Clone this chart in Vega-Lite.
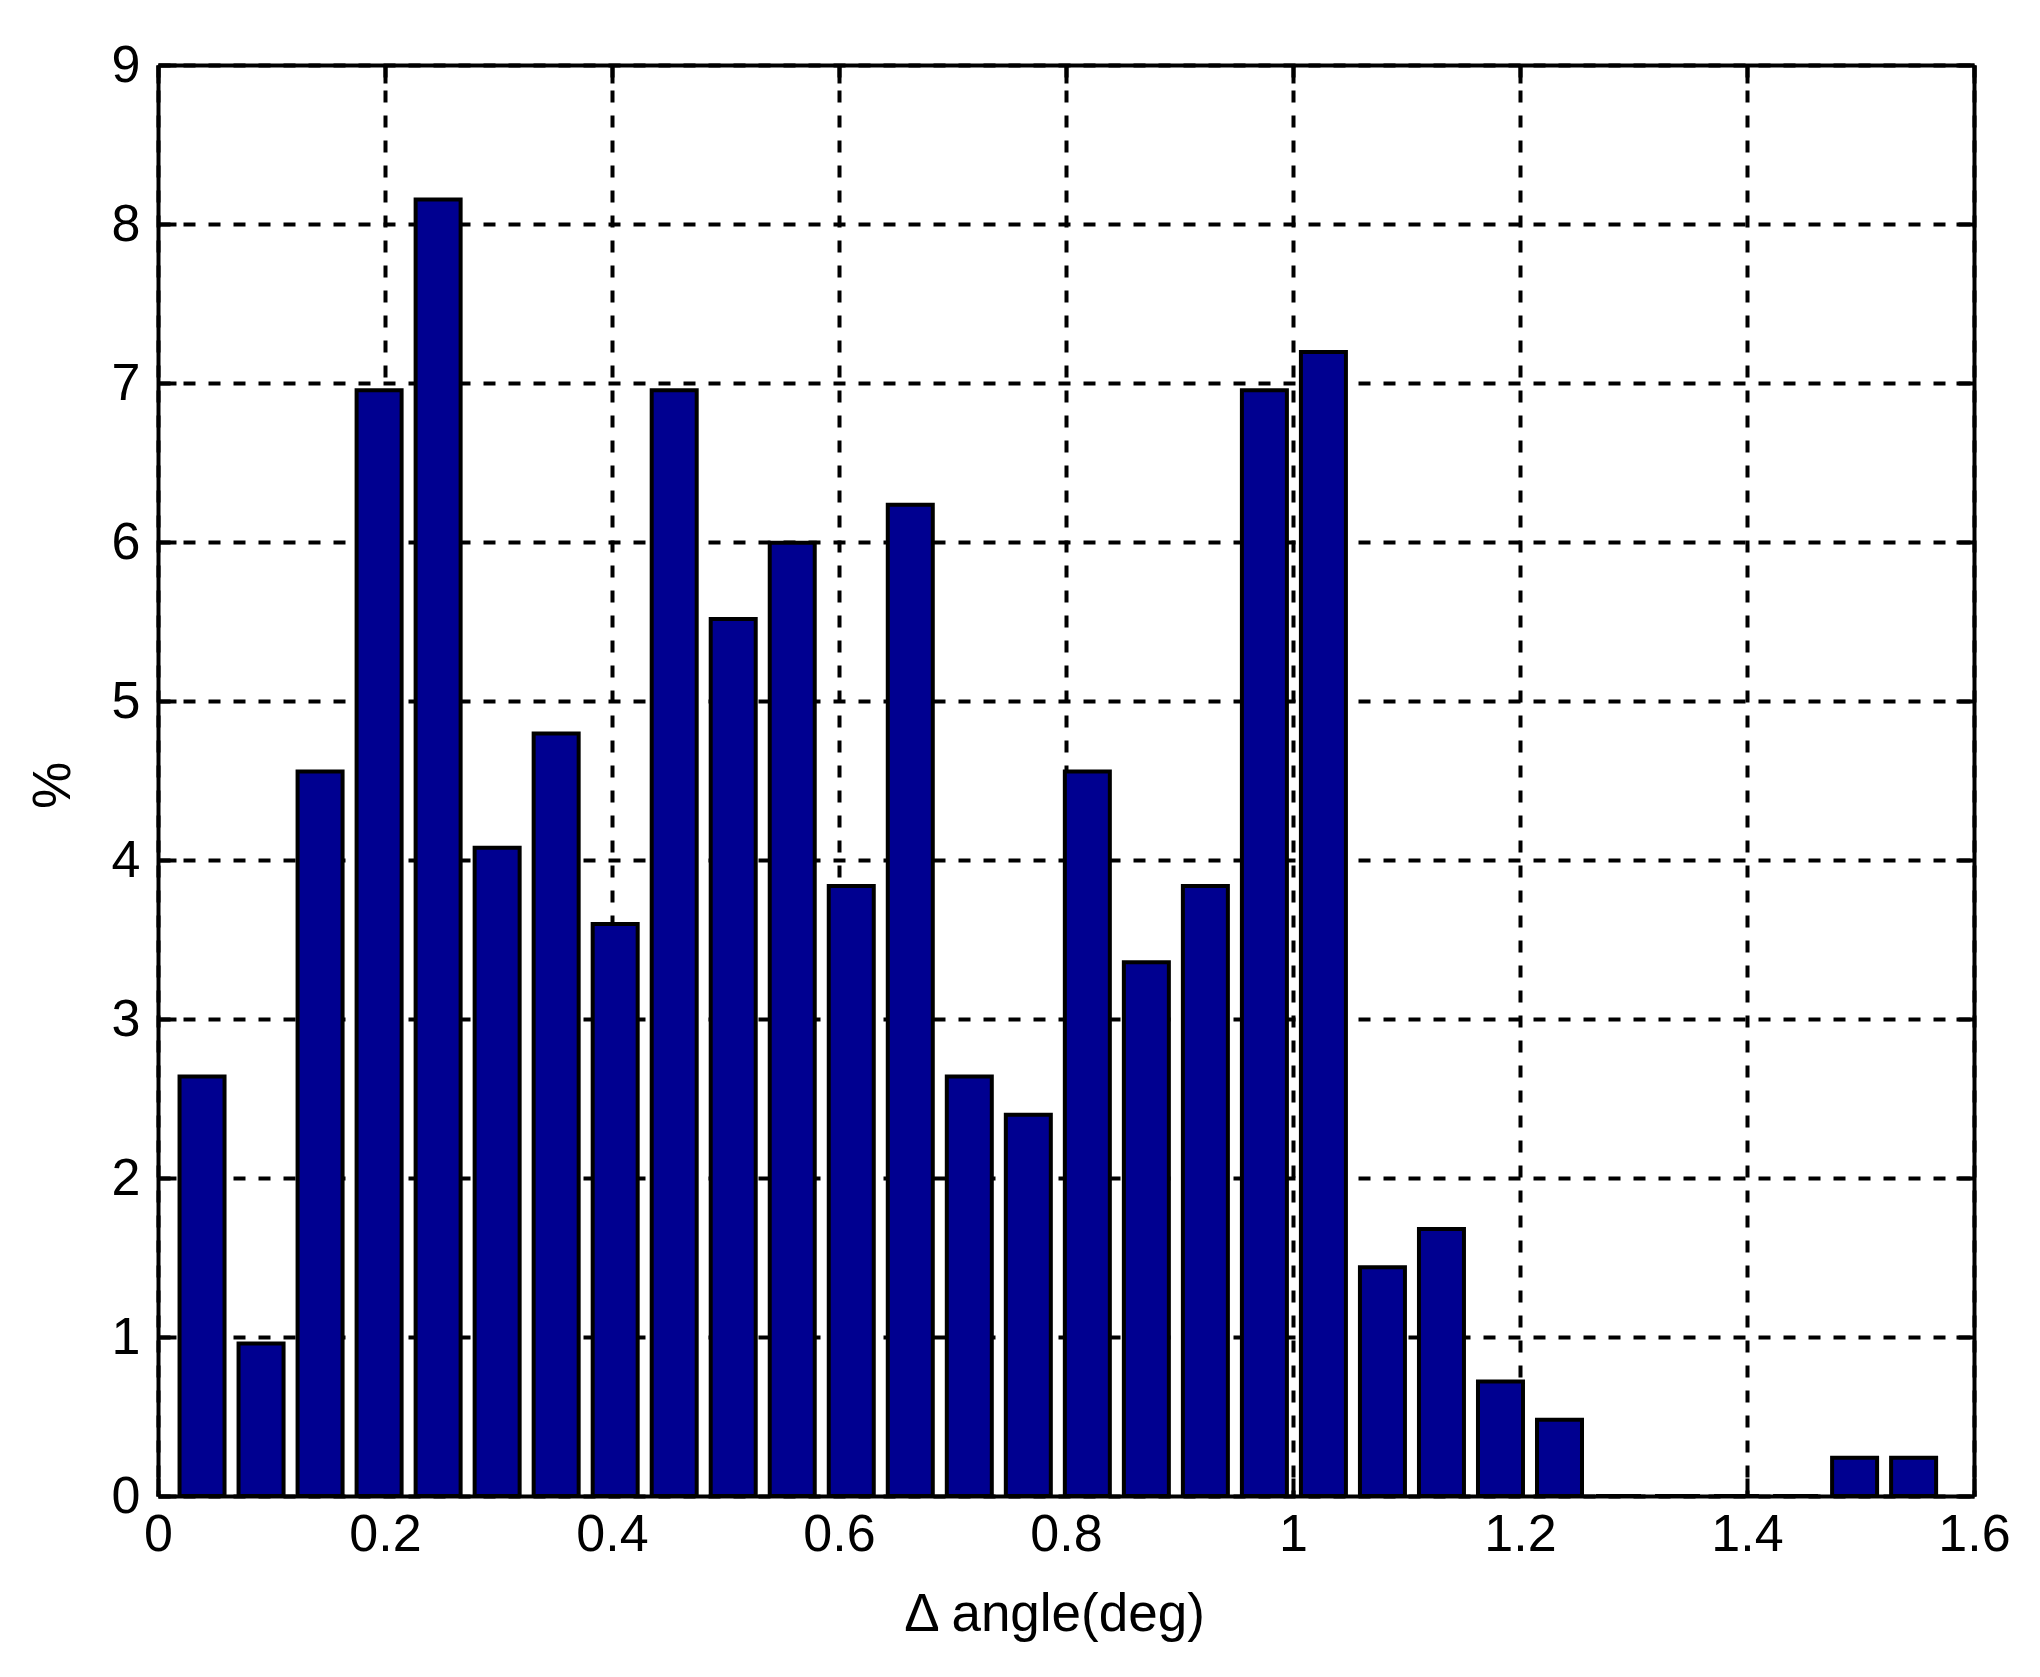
{
  "$schema": "https://vega.github.io/schema/vega-lite/v6.json",
  "width": 1816,
  "height": 1431,
  "autosize": {"type": "none"},
  "padding": {"left": 158, "top": 65, "right": 66, "bottom": 181},
  "background": "white",
  "config": {
    "view": {"stroke": null},
    "font": "Liberation Sans",
    "axis": {
      "labelFont": "Liberation Sans",
      "titleFont": "Liberation Sans",
      "labelColor": "black",
      "titleColor": "black",
      "labelFontSize": 52,
      "titleFontSize": 53,
      "titleFontWeight": "normal",
      "domainColor": "black",
      "domainWidth": 4,
      "tickColor": "black",
      "tickWidth": 4,
      "tickSize": -18,
      "labelOverlap": false,
      "labelFlush": false,
      "gridColor": "black",
      "gridOpacity": 1,
      "gridWidth": 4,
      "gridDash": [12, 13]
    }
  },
  "data": {
    "values": [
      {"angle": 0.0388, "pct": 2.6379},
      {"angle": 0.0908, "pct": 0.9592},
      {"angle": 0.1428, "pct": 4.5564},
      {"angle": 0.1948, "pct": 6.9544},
      {"angle": 0.2468, "pct": 8.1535},
      {"angle": 0.2988, "pct": 4.0767},
      {"angle": 0.3508, "pct": 4.7962},
      {"angle": 0.4028, "pct": 3.5971},
      {"angle": 0.4548, "pct": 6.9544},
      {"angle": 0.5068, "pct": 5.5156},
      {"angle": 0.5588, "pct": 5.9952},
      {"angle": 0.6108, "pct": 3.8369},
      {"angle": 0.6628, "pct": 6.2350},
      {"angle": 0.7148, "pct": 2.6379},
      {"angle": 0.7668, "pct": 2.3981},
      {"angle": 0.8188, "pct": 4.5564},
      {"angle": 0.8708, "pct": 3.3573},
      {"angle": 0.9228, "pct": 3.8369},
      {"angle": 0.9748, "pct": 6.9544},
      {"angle": 1.0268, "pct": 7.1942},
      {"angle": 1.0788, "pct": 1.4388},
      {"angle": 1.1308, "pct": 1.6787},
      {"angle": 1.1828, "pct": 0.7194},
      {"angle": 1.2348, "pct": 0.4796},
      {"angle": 1.2868, "pct": 0},
      {"angle": 1.3388, "pct": 0},
      {"angle": 1.3908, "pct": 0},
      {"angle": 1.4428, "pct": 0},
      {"angle": 1.4948, "pct": 0.2398},
      {"angle": 1.5468, "pct": 0.2398}
    ]
  },
  "layer": [
    {
      "mark": {"type": "bar", "width": 45, "fill": "#000090", "stroke": "black", "strokeWidth": 4},
      "encoding": {
        "x": {
          "field": "angle",
          "type": "quantitative",
          "scale": {"domain": [0, 1.6], "nice": false, "zero": false, "padding": 0},
          "axis": {
            "orient": "bottom",
            "values": [0, 0.2, 0.4, 0.6, 0.8, 1, 1.2, 1.4, 1.6],
            "format": "~g",
            "grid": true,
            "labelPadding": 31,
            "title": "Δ angle(deg)",
            "titleX": 896,
            "titleY": 134,
            "titleAlign": "center",
            "titleBaseline": "alphabetic",
            "zindex": 0
          }
        },
        "y": {
          "field": "pct",
          "type": "quantitative",
          "scale": {"domain": [0, 9], "nice": false, "padding": 0},
          "axis": {
            "orient": "left",
            "values": [0, 1, 2, 3, 4, 5, 6, 7, 8, 9],
            "format": "d",
            "grid": true,
            "labelPadding": 36,
            "title": "%",
            "titleX": -105,
            "titleY": 720,
            "titleAngle": -90,
            "titleAlign": "center",
            "titleBaseline": "middle",
            "zindex": 0
          }
        }
      }
    },
    {
      "mark": {"type": "point", "opacity": 0},
      "encoding": {
        "x": {
          "field": "angle",
          "type": "quantitative",
          "axis": {
            "orient": "top",
            "values": [0, 0.2, 0.4, 0.6, 0.8, 1, 1.2, 1.4, 1.6],
            "labels": false,
            "grid": false,
            "title": null,
            "zindex": 1
          }
        },
        "y": {
          "field": "pct",
          "type": "quantitative",
          "axis": {
            "orient": "right",
            "values": [0, 1, 2, 3, 4, 5, 6, 7, 8, 9],
            "labels": false,
            "grid": false,
            "title": null,
            "zindex": 1
          }
        }
      }
    }
  ]
}
